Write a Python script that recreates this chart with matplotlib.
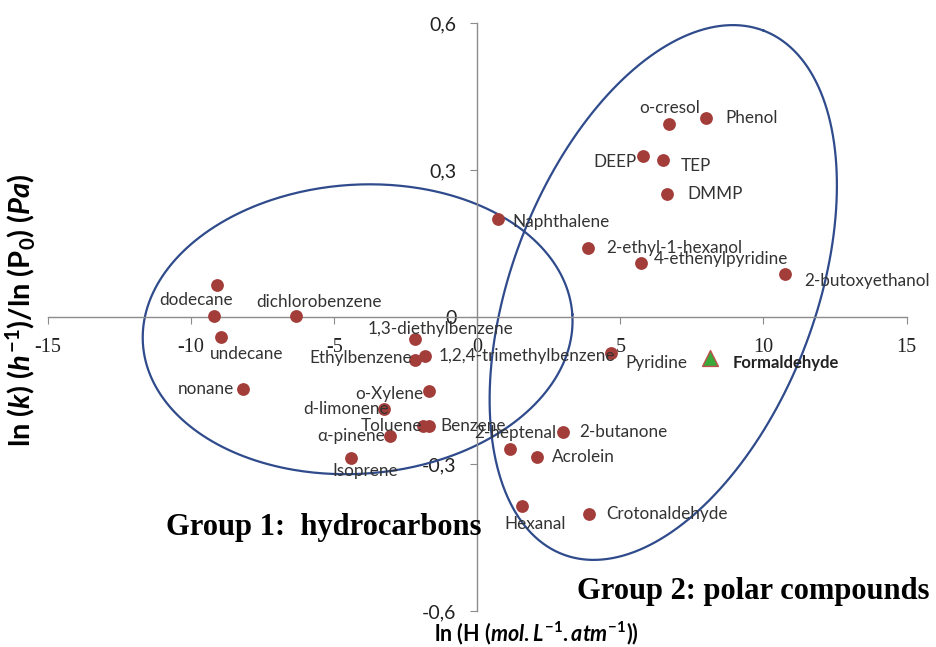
import numpy as np
import matplotlib.pyplot as plt

# compounds (group 1 + group 2)
names = ["", "dodecane", "undecane", "nonane", "dichlorobenzene",
         "1,3-diethylbenzene", "Ethylbenzene", "1,2,4-trimethylbenzene",
         "o-Xylene", "d-limonene", "Toluene", "Benzene", "α-pinene", "Isoprene",
         "Naphthalene", "2-ethyl-1-hexanol", "4-ethenylpyridine", "2-butoxyethanol",
         "o-cresol", "Phenol", "DEEP", "TEP", "DMMP", "Pyridine",
         "2-heptenal", "2-butanone", "Acrolein", "Hexanal", "Crotonaldehyde"]
ln_h = [-9.09, -9.20, -8.97, -8.17, -6.32,
        -2.16, -2.16, -1.82,
        -1.67, -3.27, -1.90, -1.67, -3.06, -4.40,
        0.72, 3.86, 5.72, 10.75,
        6.70, 7.98, 5.80, 6.49, 6.63, 4.69,
        1.16, 2.99, 2.08, 1.56, 3.90]
ln_k = [0.065, 0.002, -0.040, -0.147, 0.002,
        -0.044, -0.088, -0.079,
        -0.150, -0.188, -0.222, -0.222, -0.243, -0.287,
        0.201, 0.141, 0.111, 0.088,
        0.394, 0.407, 0.329, 0.320, 0.252, -0.074,
        -0.269, -0.235, -0.286, -0.386, -0.403]

formaldehyde = (8.15, -0.084)

xticks = [-15, -10, -5, 0, 5, 10, 15]
yticks = [-0.6, -0.3, 0, 0.3, 0.6]
ytick_labels = ["-0,6", "-0,3", "0", "0,3", "0,6"]

# label offsets in pixels (dx, dy up, alignment)
offsets = {
    "dodecane": (-18, 16, "center"), "undecane": (26, -17, "center"),
    "nonane": (-9, 0, "right"), "dichlorobenzene": (23, 14, "center"),
    "1,3-diethylbenzene": (25, 10, "center"), "Ethylbenzene": (-3, 2, "right"),
    "1,2,4-trimethylbenzene": (13, 0, "left"), "o-Xylene": (-6, -4, "right"),
    "d-limonene": (5, 0, "right"), "Toluene": (-1, 0, "right"),
    "Benzene": (11, 0, "left"), "α-pinene": (-5, 0, "right"),
    "Isoprene": (14, -13, "center"), "Naphthalene": (15, -3, "left"),
    "2-ethyl-1-hexanol": (19, 0, "left"), "4-ethenylpyridine": (13, 4, "left"),
    "2-butoxyethanol": (19, -7, "left"), "o-cresol": (1, 16, "center"),
    "Phenol": (20, 0, "left"), "DEEP": (-7, -6, "right"), "TEP": (18, -6, "left"),
    "DMMP": (20, 0, "left"), "Pyridine": (14, -10, "left"),
    "2-heptenal": (5, 16, "center"), "2-butanone": (16, 0, "left"),
    "Acrolein": (15, 0, "left"), "Hexanal": (13, -18, "center"),
    "Crotonaldehyde": (17, 0, "left"),
}

plt.rcParams['font.family'] = ['Lato', 'DejaVu Sans']
plt.rcParams['mathtext.fontset'] = 'custom'
plt.rcParams['mathtext.rm'] = 'Lato:bold'
plt.rcParams['mathtext.it'] = 'Lato:bold:italic'
plt.rcParams['mathtext.bf'] = 'Lato:bold'

fig = plt.figure(figsize=(9.36, 6.47), dpi=100)
ax = fig.add_axes([48 / 936, 36 / 647, 858.5 / 936, 588 / 647])

ax.set_xlim(-15, 15)
ax.set_ylim(-0.6, 0.6)
for s in ["top", "right"]:
    ax.spines[s].set_visible(False)
ax.spines["left"].set_position("zero")
ax.spines["bottom"].set_position("zero")
for s in ["left", "bottom"]:
    ax.spines[s].set_color("#8c8c8c")
    ax.spines[s].set_linewidth(1.0)

ax.set_xticks(xticks)
ax.set_xticklabels([str(t) for t in xticks], family="Liberation Serif", fontsize=14.5)
ax.set_yticks(yticks)
ax.set_yticklabels(ytick_labels, fontsize=14)
ax.tick_params(axis="x", direction="out", length=5, color="#8c8c8c", pad=10, labelcolor="#222222")
ax.tick_params(axis="y", direction="out", length=5, color="#8c8c8c", pad=10, labelcolor="#222222")

# group ellipses (centre, semi-axes in x units, angle on screen)
pos = ax.get_position()
ky = (1.2 / (pos.height * 6.47)) / (30 / (pos.width * 9.36))
t = np.linspace(0, 2 * np.pi, 400)
for cx, cy, a, b, ang in [(-4.18, -0.025, 7.52, 5.05, 4), (6.5, 0.05, 9.8, 5.3, 69)]:
    th = np.radians(ang)
    ex = cx + a * np.cos(t) * np.cos(th) - b * np.sin(t) * np.sin(th)
    ey = cy + (a * np.cos(t) * np.sin(th) + b * np.sin(t) * np.cos(th)) * ky
    ax.plot(ex, ey, color="#2f4b8c", lw=1.6, zorder=2)

ax.scatter(ln_h, ln_k, s=85, color="#a33d3a", zorder=3, linewidths=0)
ax.scatter([formaldehyde[0]], [formaldehyde[1]], marker="^", s=130,
           color="#3aa83a", edgecolors="#c0504d", linewidths=1, zorder=3)

for n, x, y in zip(names, ln_h, ln_k):
    if n not in offsets:
        continue
    dx, dy, ha = offsets[n]
    ax.annotate(n, (x, y), xytext=(dx * 0.72, dy * 0.72), textcoords="offset points",
                ha=ha, va="center", fontsize=12.3, color="#333333", zorder=4)
ax.annotate("Formaldehyde", formaldehyde, xytext=(22 * 0.72, -5 * 0.72),
            textcoords="offset points", ha="left", va="center", fontsize=12,
            fontweight="bold", color="#222222", zorder=4)

ax.text(-10.86, -0.429, "Group 1:  hydrocarbons", family="Liberation Serif",
        fontweight="bold", fontsize=22, va="center", ha="left")
ax.text(3.48, -0.561, "Group 2: polar compounds", family="Liberation Serif",
        fontweight="bold", fontsize=22, va="center", ha="left")

fig.text(536 / 936, 1 - 633 / 647, r"ln (H ($mol.L^{-1}.atm^{-1}$))",
         ha="center", va="center", fontsize=15.5, fontweight="bold")
fig.text(20 / 936, 1 - 310 / 647, r"ln ($k$) ($h^{-1}$)/ln (P$_0$) ($Pa$)",
         ha="center", va="center", rotation=90, fontsize=21, fontweight="bold")

fig.savefig("out.png", dpi=100)
